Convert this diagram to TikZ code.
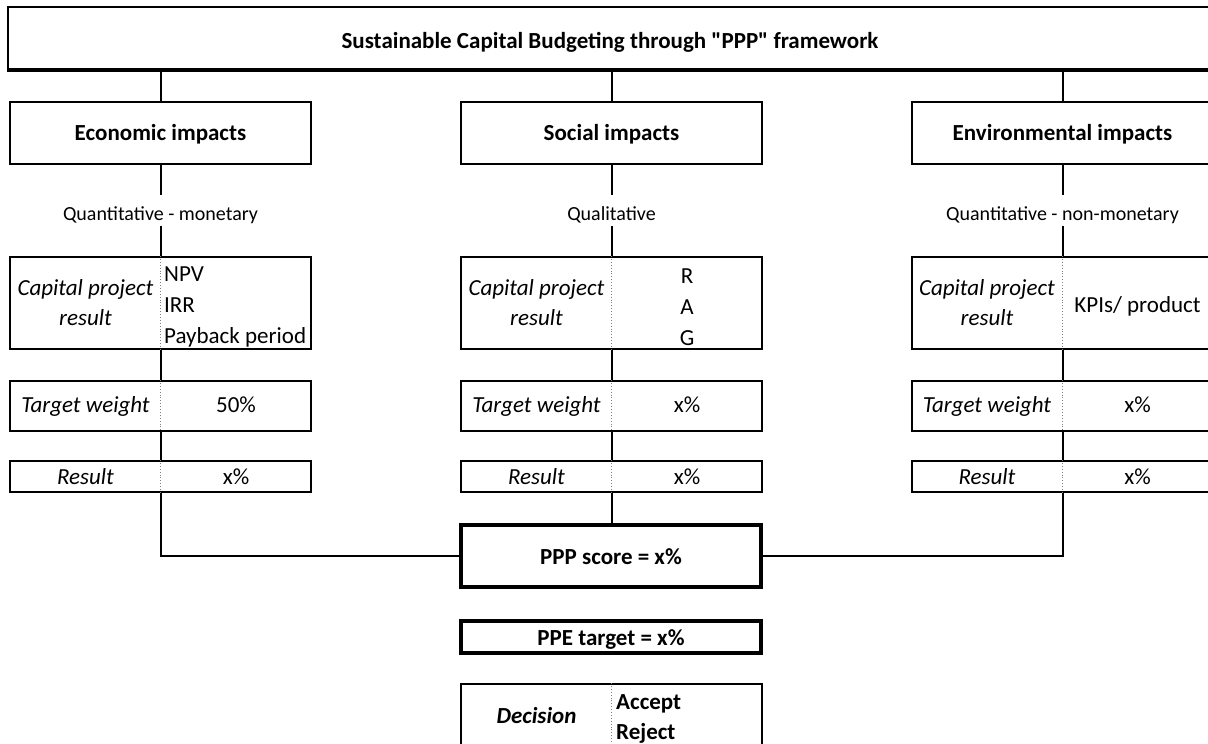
\documentclass[tikz,border=0pt]{standalone}
\usepackage{fontspec}
\setmainfont{Carlito}
\usetikzlibrary{calc}
\begin{document}
\begin{tikzpicture}[x=1pt,y=-1pt,
  box/.style={draw, line width=2pt, minimum width=301pt, inner sep=0pt},
  thickbox/.style={draw, line width=4pt, minimum width=300pt, inner sep=0pt},
  conn/.style={line width=2pt},
  divider/.style={draw=gray, line width=0.9pt, dotted},
  txt/.style={inner sep=0pt, align=center, font=\fontsize{23}{30}\selectfont},
  btxt/.style={txt, anchor=base},
  ittxt/.style={txt, font=\fontsize{23}{30}\selectfont\itshape},
  bittxt/.style={ittxt, anchor=base},
  head/.style={font=\fontsize{23}{30}\selectfont\bfseries},
  qual/.style={inner sep=0pt, minimum height=31pt, text height=21pt, text depth=2pt,
               font=\fontsize{20}{24}\selectfont},
  list/.style={inner sep=0pt, anchor=west, align=left, font=\fontsize{23}{31}\selectfont}]
\useasboundingbox (0,0) rectangle (1208,744);
\clip (0,0) rectangle (1208,744);

% title
\node[draw, line width=2.5pt, minimum width=1204pt, minimum height=62pt, inner sep=0pt,
      text height=22pt, text depth=2pt, head]
      (title) at (610,38) {Sustainable Capital Budgeting through \textquotedbl PPP\textquotedbl{} framework};
\draw[line width=4pt] (title.south west) -- (title.south east);

% ---------- Economic column ----------
\node[box, minimum height=62pt, text height=16pt, text depth=2pt, head] (econ) at (160.5,133) {Economic impacts};
\node[qual] (eq) at (160.5,210.5) {Quantitative - monetary};
\node[box, minimum height=92pt] (ecp) at (160.5,303) {};
\draw[divider] (ecp.north) -- (ecp.south);
\node[ittxt] (ecpl) at (85.5,303) {Capital project\\result};
\node[list] (ecpr) at (164,307) {NPV\\IRR\\Payback period};
\node[box, minimum height=50pt] (etw) at (160.5,406) {};
\draw[divider] (etw.north) -- (etw.south);
\node[bittxt] (etwl) at (85.5,412) {Target weight};
\node[btxt] (etwr) at (236,412) {50\%};
\node[box, minimum height=31pt] (eres) at (160.5,476.5) {};
\draw[divider] (eres.north) -- (eres.south);
\node[bittxt] (eresl) at (85.5,484) {Result};
\node[btxt] (eresr) at (236,484) {x\%};

% ---------- Social column ----------
\node[box, minimum height=62pt, text height=16pt, text depth=2pt, head] (soc) at (611.5,133) {Social impacts};
\node[qual] (sq) at (611.5,210.5) {Qualitative};
\node[box, minimum height=92pt] (scp) at (611.5,303) {};
\draw[divider] (scp.north) -- (scp.south);
\node[ittxt] (scpl) at (536.5,303) {Capital project\\result};
\node[txt, font=\fontsize{23}{31}\selectfont] (scpr) at (687,307) {R\\A\\G};
\node[box, minimum height=50pt] (stw) at (611.5,406) {};
\draw[divider] (stw.north) -- (stw.south);
\node[bittxt] (stwl) at (536.5,412) {Target weight};
\node[btxt] (stwr) at (687,412) {x\%};
\node[box, minimum height=31pt] (sres) at (611.5,476.5) {};
\draw[divider] (sres.north) -- (sres.south);
\node[bittxt] (sresl) at (536.5,484) {Result};
\node[btxt] (sresr) at (687,484) {x\%};

% ---------- Environmental column ----------
\node[box, minimum height=62pt, text height=16pt, text depth=2pt, head] (env) at (1062.5,133) {Environmental impacts};
\node[qual] (vq) at (1062.5,210.5) {Quantitative - non-monetary};
\node[box, minimum height=92pt] (vcp) at (1062.5,303) {};
\draw[divider] (vcp.north) -- (vcp.south);
\node[ittxt] (vcpl) at (987,303) {Capital project\\result};
\node[btxt] (vcpr) at (1137.5,312) {KPIs/ product};
\node[box, minimum height=50pt] (vtw) at (1062.5,406) {};
\draw[divider] (vtw.north) -- (vtw.south);
\node[bittxt] (vtwl) at (987,412) {Target weight};
\node[btxt] (vtwr) at (1137.5,412) {x\%};
\node[box, minimum height=31pt] (vres) at (1062.5,476.5) {};
\draw[divider] (vres.north) -- (vres.south);
\node[bittxt] (vresl) at (987,484) {Result};
\node[btxt] (vresr) at (1137.5,484) {x\%};

% ---------- bottom ----------
\node[thickbox, minimum height=62.5pt, text height=18pt, text depth=2pt, head] (ppp) at (611,556) {PPP score = x\%};
\node[thickbox, minimum height=32pt, text height=19pt, text depth=2pt, head] (ppe) at (611,636.5) {PPE target = x\%};
\node[box, minimum height=66pt] (dec) at (611.5,717) {};
\draw[divider] (dec.north) -- (dec.south);
\node[txt, anchor=base, font=\fontsize{23}{30}\selectfont\bfseries\itshape] (decl) at (536.5,723) {Decision};
\node[list, font=\fontsize{23}{30}\selectfont\bfseries] (decr) at (616,719) {Accept\\Reject};

% ---------- connectors ----------
\draw[conn] (econ.north |- title.south) -- (econ.north);
\draw[conn] (soc.north |- title.south) -- (soc.north);
\draw[conn] (env.north |- title.south) -- (env.north);
\draw[conn] (econ.south) -- (eq.north);
\draw[conn] (soc.south) -- (sq.north);
\draw[conn] (env.south) -- (vq.north);
\draw[conn] (eq.south) -- (ecp.north);
\draw[conn] (sq.south) -- (scp.north);
\draw[conn] (vq.south) -- (vcp.north);
\draw[conn] (ecp.south) -- (etw.north);
\draw[conn] (scp.south) -- (stw.north);
\draw[conn] (vcp.south) -- (vtw.north);
\draw[conn] (etw.south) -- (eres.north);
\draw[conn] (stw.south) -- (sres.north);
\draw[conn] (vtw.south) -- (vres.north);
\draw[conn] (eres.south) |- (ppp.west);
\draw[conn] (sres.south) -- (sres.south |- ppp.north);
\draw[conn] (vres.south) |- (ppp.east);
\end{tikzpicture}
\end{document}
